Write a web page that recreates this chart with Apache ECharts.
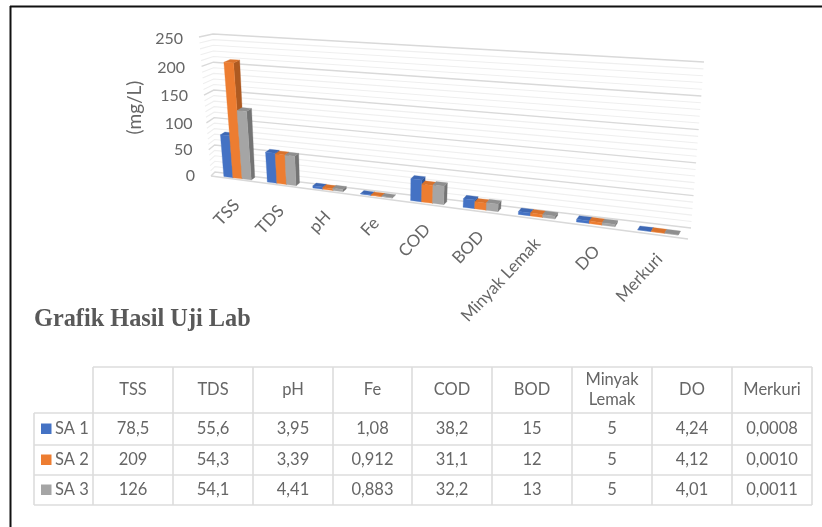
<!DOCTYPE html>
<html><head><meta charset="utf-8">
<script src="https://cdn.jsdelivr.net/npm/echarts@6/dist/echarts.min.js"></script>
<style>html,body{margin:0;padding:0;background:#fff}#c{width:822px;height:527px}</style>
</head><body><div id="c"></div>
<script>
const categories = ['TSS','TDS','pH','Fe','COD','BOD','Minyak Lemak','DO','Merkuri'];
const headerLines = ['TSS','TDS','pH','Fe','COD','BOD','Minyak\nLemak','DO','Merkuri'];
const seriesNames = ['SA 1','SA 2','SA 3'];
const sa1 = [78.5,55.6,3.95,1.08,38.2,15,5,4.24,0.0008];
const sa2 = [209,54.3,3.39,0.912,31.1,12,5,4.12,0.0010];
const sa3 = [126,54.1,4.41,0.883,32.2,13,5,4.01,0.0011];
const yTicks = [0,50,100,150,200,250];
const gridTicks = [0,10,20,30,40,50,60,70,80,90,100,110,120,130,140,150,160,170,180,190,200,210,220,230,240,250];
const title = 'Grafik Hasil Uji Lab';
const axisName = '(mg/L)';

const FACE = ['#4472C4','#ED7D31','#A5A5A5'];
const SIDE = ['#2F5597','#AE5A21','#747474'];
const TOP  = ['#3E68B4','#D9722C','#8F8F8F'];
const FONT = 'Lato';
const TXT = '#666666';

const GL=200, GW=480, GT=39, GH=137;
function homography(p){
  const [p0,p1,p2,p3]=p;
  const dx1=p1[0]-p2[0],dx2=p3[0]-p2[0],dx3=p0[0]-p1[0]+p2[0]-p3[0];
  const dy1=p1[1]-p2[1],dy2=p3[1]-p2[1],dy3=p0[1]-p1[1]+p2[1]-p3[1];
  const den=dx1*dy2-dx2*dy1;
  const g=(dx3*dy2-dx2*dy3)/den,h=(dx1*dy3-dx3*dy1)/den;
  const a=p1[0]-p0[0]+g*p1[0],b=p3[0]-p0[0]+h*p3[0],c=p0[0];
  const d=p1[1]-p0[1]+g*p1[1],e=p3[1]-p0[1]+h*p3[1],f=p0[1];
  return (u,v)=>{const w=g*u+h*v+1;return [(a*u+b*v+c)/w,(d*u+e*v+f)/w];};
}
// corners: bottom-left, bottom-right, top-right, top-left
const backWall = homography([[215,172],[691,228],[704,62],[213,34]]);
const frontWall = homography([[211,176],[688,239],[718,70],[199,37]]);
const barFront = homography([[216,175.5],[690,236.5],[717,66],[204,37]]);
const barBack = homography([[219.5,173],[692,232.5],[715,62],[211,34.5]]);
const normU = px=>(px-GL)/GW;
const normV = py=>(GT+GH-py)/GH;

function wallItem(params,api){
  const t=api.value(1), major=t%50===0;
  const v=normV(api.coord([0,t])[1]);
  const stroke=major?'#d9d9d9':'#efefef';
  const lw=major?1.4:1.1;
  const children=[
    {type:'polyline',shape:{points:[frontWall(0,v),backWall(0,v),backWall(1,v)]},style:{stroke,lineWidth:lw,fill:null}}
  ];
  if(t===0) children.push({type:'polyline',shape:{points:[frontWall(0,0),frontWall(1,0)]},style:{stroke:'#d9d9d9',lineWidth:1.6,fill:null}});
  return {type:'group',children};
}
function barItem(idx){
  return function(params,api){
    const p=api.coord([api.value(0),api.value(1)]);
    const band=api.size([1,0])[0];
    const bw=0.212*band, off=-0.315*band+idx*bw;
    const u0=normU(p[0]+off),u1=normU(p[0]+off+bw),v=normV(p[1]);
    const poly=(pts,fill)=>({type:'polygon',shape:{points:pts},style:{fill,stroke:fill,lineWidth:0.3}});
    return {type:'group',children:[
      poly([barFront(u1,0),barBack(u1,0),barBack(u1,v),barFront(u1,v)],SIDE[idx]),
      poly([barFront(u0,v),barFront(u1,v),barBack(u1,v),barBack(u0,v)],TOP[idx]),
      poly([barFront(u0,0),barFront(u1,0),barFront(u1,v),barFront(u0,v)],FACE[idx])
    ]};
  };
}
function catLabelItem(params,api){
  const p=api.coord([api.value(0),0]);
  const u=normU(p[0]);
  const q=barFront(u,0);
  return {type:'text',x:q[0]-1+3*u,y:q[1]+24,rotation:47*Math.PI/180,
    style:{text:categories[params.dataIndex],fill:TXT,font:'17px '+FONT,align:'right',verticalAlign:'middle'}};
}
const fmt=(val,c)=> (categories[c]==='Merkuri'?val.toFixed(4):String(val)).replace('.',',');

// table
const colX=[93,173,253,333,412,492,572,652,732,812];
const rowY=[367,413,445,475,505];
const LC='#dcdcdc';
const g=[];
const hline=(x1,x2,y)=>g.push({type:'line',shape:{x1,y1:y,x2,y2:y},style:{stroke:LC,lineWidth:1.6},silent:true});
const vline=(x,y1,y2)=>g.push({type:'line',shape:{x1:x,y1,x2:x,y2},style:{stroke:LC,lineWidth:1.6},silent:true});
hline(93,812,rowY[0]);
for(let r=1;r<rowY.length;r++) hline(34,812,rowY[r]);
colX.forEach(x=>vline(x,rowY[0],rowY[4]));
vline(34,rowY[1],rowY[4]);
const cell=(x,y,text,align)=>g.push({type:'text',x,y,silent:true,style:{text,fill:TXT,font:'16.5px '+FONT,align:align||'center',verticalAlign:'middle',lineHeight:20}});
headerLines.forEach((t,c)=>cell((colX[c]+colX[c+1])/2,(rowY[0]+rowY[1])/2,t));
[sa1,sa2,sa3].forEach((vals,r)=>{
  const cy=(rowY[r+1]+rowY[r+2])/2;
  g.push({type:'rect',shape:{x:41,y:cy-5.5,width:10.5,height:10.5},style:{fill:FACE[r]},silent:true});
  cell(55,cy,seriesNames[r],'left');
  vals.forEach((val,c)=>cell((colX[c]+colX[c+1])/2,cy,fmt(val,c)));
});
// frame
g.push({type:'line',shape:{x1:10.5,y1:6,x2:10.5,y2:527},style:{stroke:'#111',lineWidth:2},silent:true});
g.push({type:'line',shape:{x1:10,y1:6.5,x2:822,y2:6.5},style:{stroke:'#111',lineWidth:2},silent:true});

const padR={250:12,200:10,150:7,100:2.5,50:2.5,0:0};
const padT={250:0,200:2.6,150:4.4,100:5.6,50:2.8,0:0};
const rich={};
yTicks.forEach(t=>{rich['r'+t]={fontFamily:FONT,fontSize:16,color:TXT,padding:[padT[t],padR[t],0,0]};});

const chart=echarts.init(document.getElementById('c'),null,{renderer:'canvas'});
chart.setOption({
  animation:false,backgroundColor:'#fff',
  title:{text:title,left:34,top:308,padding:0,textStyle:{fontFamily:'Liberation Serif',fontWeight:'bold',fontSize:24.3,color:'#595959'}},
  grid:{left:GL,top:GT,width:GW,height:GH},
  xAxis:{type:'category',data:categories,show:false},
  yAxis:{type:'value',min:0,max:250,interval:50,
    name:axisName,nameLocation:'middle',nameRotate:90,nameGap:54,
    nameTextStyle:{fontFamily:FONT,fontSize:19,color:TXT},
    axisLine:{show:false},axisTick:{show:false},splitLine:{show:false},
    axisLabel:{margin:5,formatter:v=>'{r'+v+'|'+v+'}',rich}},
  graphic:g,
  series:[
    {type:'custom',name:'grid',silent:true,clip:false,z:1,data:gridTicks.map(t=>[0,t]),encode:{x:0,y:1},renderItem:wallItem},
    ...[sa1,sa2,sa3].map((vals,i)=>({type:'custom',name:seriesNames[i],silent:true,clip:false,z:2+i,
      data:vals.map((v,c)=>[c,v]),encode:{x:0,y:1},renderItem:barItem(i)})),
    {type:'custom',name:'labels',silent:true,clip:false,z:6,data:categories.map((n,c)=>[c,0]),encode:{x:0,y:1},renderItem:catLabelItem}
  ]
});
</script></body></html>
